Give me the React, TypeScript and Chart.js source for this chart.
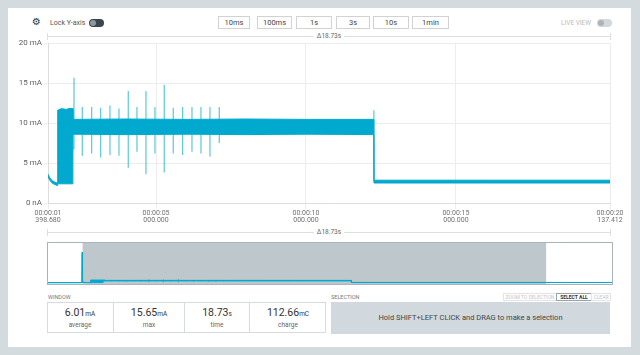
import React, { useEffect, useRef } from "react";
import { Chart, registerables } from "chart.js";
Chart.register(...registerables);

// ---- Data ----
const X_MIN = 1.39868;
const X_MAX = 20.137412;
const xTickValues = [1.39868, 5, 10, 15, 20.137412];
const xTickLabels = [
  ["00:00:01", "398.680"],
  ["00:00:05", "000.000"],
  ["00:00:10", "000.000"],
  ["00:00:15", "000.000"],
  ["00:00:20", "137.412"],
];
const yTickValues = [0, 5, 10, 15, 20];
const yTickLabels = ["0 nA", "5 mA", "10 mA", "15 mA", "20 mA"];

// current envelope (min / max per segment), mA
const envTime = [1.39868, 1.45, 1.52, 1.6, 1.7, 1.72, 1.725, 1.85, 2.0, 2.1, 2.225, 2.23, 4.0, 6.0, 8.0, 10.0, 12.265, 12.27, 16.0, 20.137412];
const envMax = [3.6, 3.2, 2.85, 2.65, 2.5, 2.5, 11.6, 11.8, 11.7, 11.8, 11.8, 10.45, 10.5, 10.45, 10.5, 10.45, 10.45, 2.85, 2.85, 2.85];
const envMin = [3.3, 2.9, 2.55, 2.35, 2.2, 2.2, 2.4, 2.4, 2.4, 2.4, 2.4, 8.6, 8.55, 8.6, 8.55, 8.6, 8.55, 2.5, 2.5, 2.5];

// spikes
const spikeTime = [2.265, 2.542, 2.855, 3.155, 3.465, 3.765, 4.075, 4.365, 4.665, 4.965, 5.275, 5.575, 5.888, 6.199, 6.499, 6.799, 7.109, 12.265];
const spikeHigh = [15.65, 12.0, 12.0, 11.9, 12.2, 11.8, 14.0, 12.0, 14.0, 12.0, 14.75, 11.9, 12.0, 12.0, 12.0, 12.0, 12.0, 11.6];
const spikeLow = [6.7, 5.9, 6.2, 5.7, 6.0, 5.9, 4.4, 6.4, 3.6, 6.2, 3.8, 6.2, 6.0, 6.4, 6.2, 5.8, 7.5, 2.6];

// overview (whole recording)
const OV_MAX_T = 22.8;
const ovPreTime = [0, 1.37, 1.385, 1.392];
const ovPreValue = [2.0, 2.0, 115, 3.6];
const ovPostTime = [22.8];
const ovPostValue = [2.7];

// stats
const statValues = ["6.01", "15.65", "18.73", "112.66"];
const statUnits = ["mA", "mA", "s", "mC"];
const statLabels = ["average", "max", "time", "charge"];
const statWidths = [66, 71, 65, 77];
const rangeButtons = ["10ms", "100ms", "1s", "3s", "10s", "1min"];
const rangeButtonX = [218, 257, 296, 336, 373, 412];
const rangeButtonW = [30, 33, 34, 32, 34, 35];
const deltaLabel = "\u039418.73s";

const BLUE = "#00a9cd";

function envelope(times: number[], vals: number[]) {
  return times.map((t, i) => ({ x: t, y: vals[i] }));
}
function spikeData() {
  const out: any[] = [];
  spikeTime.forEach((t, i) => {
    out.push({ x: t, y: spikeLow[i] });
    out.push({ x: t, y: spikeHigh[i] });
    out.push({ x: t, y: null });
  });
  return out;
}

function MainChart() {
  const ref = useRef<HTMLCanvasElement>(null);
  useEffect(() => {
    const chart = new Chart(ref.current!, {
      type: "line",
      data: {
        datasets: [
          {
            data: envelope(envTime, envMax),
            borderColor: BLUE,
            backgroundColor: BLUE,
            borderWidth: 1,
            pointRadius: 0,
            fill: "+1",
          },
          {
            data: envelope(envTime, envMin),
            borderColor: BLUE,
            borderWidth: 1,
            pointRadius: 0,
            fill: false,
          },
          {
            data: spikeData(),
            borderColor: "rgba(0,169,205,0.65)",
            borderWidth: 1.2,
            pointRadius: 0,
            fill: false,
            spanGaps: false,
          },
        ] as any,
      },
      options: {
        responsive: false,
        animation: false,
        events: [],
        layout: { padding: { left: 0, right: 30, top: 43, bottom: 0 } },
        plugins: { legend: { display: false }, tooltip: { enabled: false } },
        scales: {
          x: {
            type: "linear",
            min: X_MIN,
            max: X_MAX,
            afterBuildTicks: (s: any) => {
              s.ticks = xTickValues.map((v) => ({ value: v }));
            },
            afterFit: (s: any) => {
              s.height = 37;
            },
            ticks: {
              autoSkip: false,
              maxRotation: 0,
              padding: 1,
              color: "#707070",
              font: { family: "Roboto", size: 7, lineHeight: 1.0 },
              callback: (_v: any, i: number) => xTickLabels[i],
            },
            grid: { color: "#ececec", tickLength: 6 },
            border: { color: "#dddddd" },
          },
          y: {
            min: 0,
            max: 20,
            afterBuildTicks: (s: any) => {
              s.ticks = yTickValues.map((v) => ({ value: v }));
            },
            afterFit: (s: any) => {
              s.width = 48;
            },
            ticks: {
              padding: 3,
              color: "#606060",
              font: { family: "Roboto", size: 8 },
              callback: (_v: any, i: number) => yTickLabels[i],
            },
            grid: { color: "#ececec", tickLength: 3 },
            border: { color: "#dddddd" },
          },
        },
      } as any,
    });
    return () => chart.destroy();
  }, []);
  return (
    <canvas
      ref={ref}
      width={640}
      height={240}
      style={{ position: "absolute", left: 0, top: 0, width: 640, height: 240 }}
    />
  );
}

function OverviewChart() {
  const ref = useRef<HTMLCanvasElement>(null);
  useEffect(() => {
    const upT = [...ovPreTime, ...envTime, ...ovPostTime];
    const upV = [...ovPreValue, ...envMax, ...ovPostValue];
    const loV = [...ovPreValue, ...envMin, ...ovPostValue];
    const windowPlugin = {
      id: "windowShade",
      beforeDatasetsDraw(chart: any) {
        const { ctx, chartArea, scales } = chart;
        const x0 = scales.x.getPixelForValue(X_MIN);
        const x1 = scales.x.getPixelForValue(X_MAX);
        ctx.save();
        ctx.fillStyle = "#bec7cc";
        ctx.fillRect(x0, chartArea.top, x1 - x0, chartArea.bottom - chartArea.top);
        ctx.restore();
      },
    };
    const chart = new Chart(ref.current!, {
      type: "line",
      data: {
        datasets: [
          {
            data: envelope(upT, upV),
            borderColor: BLUE,
            backgroundColor: BLUE,
            borderWidth: 1,
            pointRadius: 0,
            fill: "+1",
          },
          {
            data: envelope(upT, loV),
            borderColor: BLUE,
            borderWidth: 1,
            pointRadius: 0,
            fill: false,
          },
          {
            data: spikeData(),
            borderColor: "rgba(0,169,205,0.8)",
            borderWidth: 1,
            pointRadius: 0,
            fill: false,
            spanGaps: false,
          },
        ] as any,
      },
      options: {
        responsive: false,
        animation: false,
        events: [],
        layout: { padding: 0 },
        plugins: { legend: { display: false }, tooltip: { enabled: false } },
        scales: {
          x: { type: "linear", min: 0, max: OV_MAX_T, display: false },
          y: { min: -3, max: 150, display: false },
        },
      } as any,
      plugins: [windowPlugin],
    });
    return () => chart.destroy();
  }, []);
  return (
    <canvas
      ref={ref}
      width={564}
      height={41}
      style={{ position: "absolute", left: 48, top: 243, width: 564, height: 41 }}
    />
  );
}

const abs = (s: React.CSSProperties): React.CSSProperties => ({ position: "absolute", ...s });

function DeltaLine({ top }: { top: number }) {
  return (
    <>
      <div style={abs({ left: 48, top, width: 562, height: 0, borderTop: "1px solid #dedede" })} />
      <div style={abs({ left: 47, top: top - 3, width: 1, height: 7, background: "#dedede" })} />
      <div style={abs({ left: 610, top: top - 3, width: 1, height: 7, background: "#dedede" })} />
      <div
        style={abs({
          left: 279,
          top: top - 4,
          width: 100,
          textAlign: "center",
          fontSize: 6.5,
          lineHeight: "8px",
          color: "#666",
        })}
      >
        <span style={{ background: "#fff", padding: "0 3px" }}>{deltaLabel}</span>
      </div>
    </>
  );
}

function Toggle({ left, top, bg, knob }: { left: number; top: number; bg: string; knob: string }) {
  return (
    <div style={abs({ left, top, width: 15, height: 8, borderRadius: 4, background: bg })}>
      <div style={abs({ left: 1, top: 1, width: 6, height: 6, borderRadius: 3, background: knob })} />
    </div>
  );
}

export default function App() {
  let acc = 47;
  const cellLefts = statWidths.map((w) => {
    const l = acc;
    acc += w;
    return l;
  });
  return (
    <div
      style={{
        position: "fixed",
        left: 0,
        top: 0,
        width: 640,
        height: 355,
        background: "#d3dbdf",
        fontFamily: "Roboto, 'Noto Sans', sans-serif",
        overflow: "hidden",
      }}
    >
      <div style={abs({ left: 8, top: 8, width: 623, height: 339, background: "#ffffff" })} />

      {/* top bar */}
      <div style={abs({ left: 32, top: 16, fontSize: 10, lineHeight: "12px", color: "#2d3840", fontFamily: "DejaVu Sans" })}>⚙</div>
      <div style={abs({ left: 50, top: 18, fontSize: 7, lineHeight: "10px", color: "#555", whiteSpace: "nowrap" })}>Lock Y-axis</div>
      <Toggle left={89} top={19} bg="#3b4650" knob="#8d979e" />
      {rangeButtons.map((b, i) => (
        <div
          key={b}
          style={abs({
            left: rangeButtonX[i],
            top: 16,
            width: rangeButtonW[i],
            height: 11,
            border: "1px solid #d2d2d2",
            fontSize: 7.5,
            lineHeight: "11px",
            textAlign: "center",
            color: "#444",
            boxSizing: "content-box",
          })}
        >
          {b}
        </div>
      ))}
      <div style={abs({ left: 561, top: 19, fontSize: 6.5, lineHeight: "8px", color: "#bbbbbb" })}>LIVE VIEW</div>
      <Toggle left={597} top={19} bg="#d3d8db" knob="#adb4b9" />

      <DeltaLine top={36} />
      <MainChart />
      <DeltaLine top={232} />

      {/* overview */}
      <div style={abs({ left: 47, top: 242, width: 564, height: 41, border: "1px solid #a9b3b9", background: "#fff" })} />
      <OverviewChart />

      {/* window stats */}
      <div style={abs({ left: 48, top: 294, fontSize: 5.5, lineHeight: "6px", color: "#777" })}>WINDOW</div>
      <div style={abs({ left: 47, top: 302, width: 279, height: 31, border: "1px solid #d5dce0", boxSizing: "border-box" })} />
      {statValues.map((v, i) => (
        <div
          key={i}
          style={abs({
            left: cellLefts[i],
            top: 302,
            width: statWidths[i],
            height: 31,
            borderLeft: i > 0 ? "1px solid #d5dce0" : "none",
            boxSizing: "border-box",
            textAlign: "center",
          })}
        >
          <div style={{ marginTop: 5, fontSize: 10.5, lineHeight: "12px", color: "#333" }}>
            {v}
            <span style={{ fontSize: 6.5 }}>{statUnits[i]}</span>
          </div>
          <div style={{ marginTop: 1, fontSize: 6.5, lineHeight: "8px", color: "#666" }}>{statLabels[i]}</div>
        </div>
      ))}

      {/* selection */}
      <div style={abs({ left: 331, top: 294, fontSize: 5.5, lineHeight: "6px", color: "#777" })}>SELECTION</div>
      <div style={abs({ left: 503, top: 293, width: 52, height: 6, border: "1px solid #e4e4e4", fontSize: 5, lineHeight: "6px", textAlign: "center", color: "#c4c4c4" })}>
        ZOOM TO SELECTION
      </div>
      <div style={abs({ left: 556, top: 293, width: 34, height: 6, border: "1px solid #9aa3a8", fontSize: 5, lineHeight: "6px", textAlign: "center", color: "#333", fontWeight: 700 })}>
        SELECT ALL
      </div>
      <div style={abs({ left: 591, top: 293, width: 18, height: 6, border: "1px solid #e4e4e4", fontSize: 5, lineHeight: "6px", textAlign: "center", color: "#c4c4c4" })}>
        CLEAR
      </div>
      <div
        style={abs({
          left: 331,
          top: 302,
          width: 279,
          height: 32,
          background: "#d1d9de",
          fontSize: 7.5,
          lineHeight: "32px",
          textAlign: "center",
          color: "#444",
        })}
      >
        Hold SHIFT+LEFT CLICK and DRAG to make a selection
      </div>
    </div>
  );
}
